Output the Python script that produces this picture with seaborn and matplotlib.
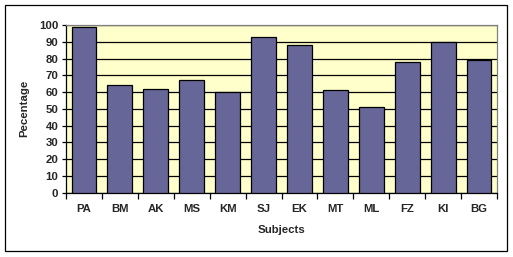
import matplotlib
matplotlib.use("Agg")
import matplotlib.pyplot as plt
import seaborn as sns
import pandas as pd
from matplotlib.patches import Rectangle

subjects = ["PA", "BM", "AK", "MS", "KM", "SJ", "EK", "MT", "ML", "FZ", "KI", "BG"]
percentages = [99, 64, 62, 67, 60, 93, 88, 61, 51, 78, 90, 79]
y_ticks = list(range(0, 101, 10))

df = pd.DataFrame({"Subjects": subjects, "Pecentage": percentages})

sns.set_style("white")
plt.rcParams["font.family"] = ["Liberation Sans", "DejaVu Sans"]
plt.rcParams["font.weight"] = "bold"

fig = plt.figure(figsize=(5.13, 2.57), dpi=100)
ax = fig.add_axes([66/513, 1-192.7/257, (497-66)/513, (192.7-25)/257])
ax.set_facecolor("#FFFFCC")

sns.barplot(data=df, x="Subjects", y="Pecentage", ax=ax, color="#666699",
            saturation=1, width=0.69, edgecolor="black", linewidth=0.9, zorder=3)

ax.set_ylim(0, 100)
ax.set_xlim(-0.5, len(subjects) - 0.5)
ax.set_yticks(y_ticks)
ax.yaxis.grid(True, color="black", linewidth=0.9, zorder=0)
ax.set_axisbelow(True)

fs = 8.2
# x ticks between categories
ax.set_xticks(range(len(subjects)))
ax.set_xticklabels(subjects, fontsize=fs, fontweight="bold")
ax.tick_params(axis="x", length=0, pad=8)
ax.set_xticks([i - 0.5 for i in range(len(subjects) + 1)], minor=True)
ax.tick_params(axis="x", which="minor", direction="out", length=4, width=0.9, color="black", bottom=True)
ax.tick_params(axis="y", direction="out", length=3, width=0.9, color="black", left=True, labelsize=fs, pad=2.5)
for lab in ax.get_yticklabels():
    lab.set_fontweight("bold")

for side in ["top", "right"]:
    ax.spines[side].set_visible(True)
    ax.spines[side].set_color("#808080")
    ax.spines[side].set_linewidth(0.9)
for side in ["left", "bottom"]:
    ax.spines[side].set_color("black")
    ax.spines[side].set_linewidth(0.9)

ax.set_xlabel("Subjects", fontsize=fs, fontweight="bold", labelpad=8)
ax.set_ylabel("Pecentage", fontsize=fs, fontweight="bold", labelpad=7)

fig.patches.append(Rectangle((5/513, 1-251/257), (507-5)/513, (251-5)/257,
                             transform=fig.transFigure, fill=False,
                             edgecolor="black", linewidth=0.9))

fig.savefig("out.png", dpi=100)
